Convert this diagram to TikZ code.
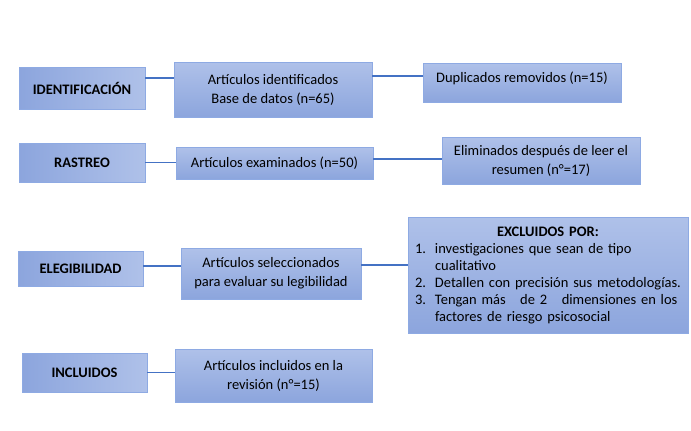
\documentclass[tikz,border=0pt]{standalone}
\usepackage{fontspec}
\setmainfont{Carlito}
\definecolor{boxtop}{HTML}{AFC1E9}
\definecolor{boxbot}{HTML}{8CA5DD}
\definecolor{boxline}{HTML}{8EAAE3}
\definecolor{linkblue}{HTML}{4472C4}
\newcommand{\listitem}[2]{\par\raggedright\leftskip=4pt\hyphenpenalty=10000\hangindent=20pt\hangafter=1\noindent\makebox[20pt][l]{#1}#2\par}
\begin{document}
\begin{tikzpicture}[x=1pt,y=-1pt,
    stage/.style={draw=boxline,line width=0.6pt,left color=boxbot,right color=boxtop,
        inner sep=0pt,font=\fontsize{14.5}{17}\selectfont\bfseries},
    box/.style={draw=boxline,line width=0.6pt,top color=boxtop,bottom color=boxbot,
        inner sep=0pt,align=center,font=\fontsize{14.5}{19}\selectfont},
    link/.style={draw=linkblue,line width=1.6pt}]
        \useasboundingbox (0,0) rectangle (691,431);

        \node[stage,minimum width=126pt,minimum height=42pt] at (82, 88)    (ident)  {IDENTIFICACIÓN};
        \node[stage,minimum width=126pt,minimum height=39pt] at (82, 162.5) (rastreo) {RASTREO};
        \node[stage,minimum width=125pt,minimum height=35pt] at (80.5, 268.5) (eleg) {ELEGIBILIDAD};
        \node[stage,minimum width=125pt,minimum height=39pt] at (84.5, 372.5) (incl) {INCLUIDOS};

        \node[box,minimum width=198pt,minimum height=55pt] at (273, 89.5)  (artid)  {Artículos identificados\\Base de datos (n=65)};
        \node[box,minimum width=197pt,minimum height=32pt] at (274.5, 163) (artex)  {Artículos examinados (n=50)};
        \node[box,minimum width=180pt,minimum height=51pt] at (271, 273.5) (artsel) {Artículos seleccionados\\para evaluar su legibilidad};
        \node[box,minimum width=197pt,minimum height=53pt] at (273.5, 375.5) (artinc) {Artículos incluidos en la\\revisión (n°=15)};

        \node[box,minimum width=198pt,minimum height=39pt,text depth=10pt] at (522, 82.5)  (dup)  {Duplicados removidos (n=15)};
        \node[box,minimum width=198pt,minimum height=47pt] at (541, 160.5) (elim) {Eliminados después de leer el\\resumen (n°=17)};
        \node[box,minimum width=280pt,minimum height=116pt,text width=274pt,align=left,
              font=\fontsize{14.5}{17}\selectfont] at (548, 275) (excl)
              {{\centering\bfseries EXCLUIDOS POR:\par}
               \listitem{1.}{investigaciones que sean de tipo cualitativo}
               \listitem{2.}{Detallen con precisión sus metodologías.}
               \listitem{3.}{Tengan más\ \ \ de 2\ \ \ dimensiones en los factores de riesgo psicosocial}};

        \draw[link] ([yshift=10pt]ident.east) -- ([yshift=10pt]ident.east -| artid.west);
        \draw[link] ([yshift=13.5pt]artid.east) -- ([yshift=13.5pt]artid.east -| dup.west);
        \draw[link] (rastreo.east) -- (rastreo.east -| artex.west);
        \draw[link] ([yshift=4pt]artex.east) -- ([yshift=4pt]artex.east -| elim.west);
        \draw[link] ([yshift=2.5pt]eleg.east) -- ([yshift=2.5pt]eleg.east -| artsel.west);
        \draw[link] ([yshift=8.5pt]artsel.east) -- ([yshift=8.5pt]artsel.east -| excl.west);
        \draw[link] (incl.east) -- (incl.east -| artinc.west);
    \end{tikzpicture}
\end{document}
